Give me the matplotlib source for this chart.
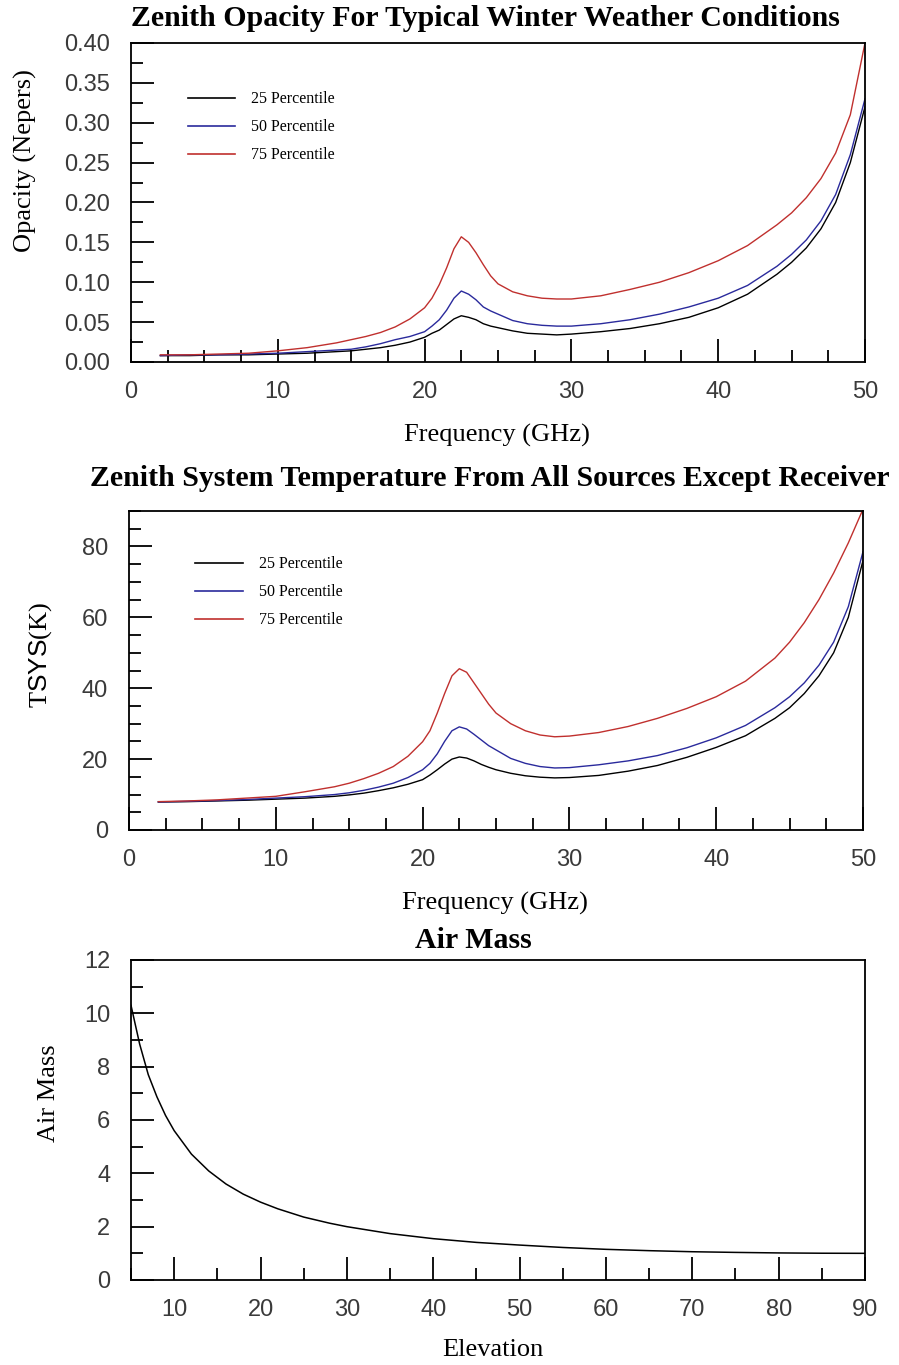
import matplotlib
matplotlib.use("Agg")
import matplotlib.pyplot as plt
from matplotlib.ticker import MultipleLocator, FormatStrFormatter

plt.rcParams["mathtext.fontset"] = "custom"
plt.rcParams["mathtext.sf"] = "Liberation Sans"
plt.rcParams["mathtext.rm"] = "Liberation Serif"

# ---- data -------------------------------------------------------------
freq_ghz = [2, 4, 6, 8, 10, 12, 14, 15, 16, 17, 18, 19, 20, 20.5, 21, 21.5,
            22, 22.5, 23, 23.5, 24, 24.5, 25, 26, 27, 28, 29, 30, 32, 34, 36,
            38, 40, 42, 44, 45, 46, 47, 48, 49, 50]

opacity_p25 = [0.008, 0.008, 0.009, 0.009, 0.010, 0.011, 0.013, 0.014, 0.016,
               0.018, 0.021, 0.025, 0.031, 0.036, 0.040, 0.047, 0.054, 0.058,
               0.056, 0.053, 0.048, 0.045, 0.043, 0.039, 0.036, 0.035, 0.034,
               0.035, 0.038, 0.042, 0.048, 0.056, 0.068, 0.085, 0.110, 0.125,
               0.143, 0.167, 0.200, 0.250, 0.320]
opacity_p50 = [0.008, 0.009, 0.009, 0.010, 0.011, 0.013, 0.015, 0.016, 0.019,
               0.023, 0.028, 0.032, 0.038, 0.045, 0.053, 0.065, 0.080, 0.089,
               0.085, 0.078, 0.069, 0.064, 0.060, 0.052, 0.048, 0.046, 0.045,
               0.045, 0.048, 0.053, 0.060, 0.069, 0.080, 0.096, 0.120, 0.135,
               0.153, 0.177, 0.210, 0.260, 0.330]
opacity_p75 = [0.009, 0.009, 0.010, 0.011, 0.014, 0.018, 0.024, 0.028, 0.032,
               0.037, 0.044, 0.054, 0.068, 0.080, 0.097, 0.118, 0.142, 0.157,
               0.150, 0.137, 0.122, 0.108, 0.098, 0.088, 0.083, 0.080, 0.079,
               0.079, 0.083, 0.091, 0.100, 0.112, 0.127, 0.146, 0.172, 0.187,
               0.206, 0.230, 0.262, 0.310, 0.400]

tsys_p25 = [7.9, 8.0, 8.2, 8.4, 8.7, 9.0, 9.5, 9.9, 10.4, 11.1, 11.9, 12.9,
            14.2, 15.5, 17.0, 18.6, 20.0, 20.6, 20.3, 19.5, 18.5, 17.7, 17.0,
            16.0, 15.3, 14.9, 14.7, 14.8, 15.4, 16.6, 18.2, 20.5, 23.3, 26.6,
            31.5, 34.5, 38.5, 43.5, 50.0, 60.0, 76.0]
tsys_p50 = [7.9, 8.1, 8.3, 8.6, 9.0, 9.4, 10.0, 10.5, 11.2, 12.1, 13.2, 14.8,
            17.0, 18.8, 21.5, 25.0, 28.0, 29.1, 28.5, 27.0, 25.4, 23.8, 22.6,
            20.2, 18.8, 17.9, 17.5, 17.6, 18.4, 19.5, 21.0, 23.2, 26.0, 29.5,
            34.5, 37.6, 41.5, 46.5, 53.0, 63.0, 78.5]
tsys_p75 = [8.0, 8.2, 8.5, 9.0, 9.5, 10.8, 12.2, 13.2, 14.5, 16.0, 17.9, 20.8,
            24.9, 28.0, 33.0, 38.5, 43.5, 45.5, 44.5, 41.5, 38.5, 35.5, 33.0,
            30.0, 28.0, 26.8, 26.3, 26.5, 27.5, 29.2, 31.5, 34.3, 37.6, 42.0,
            48.5, 53.0, 58.5, 65.0, 72.5, 81.0, 90.5]

elevation_deg = [5, 6, 7, 8, 9, 10, 12, 14, 16, 18, 20, 22, 25, 28, 30, 35, 40,
                 45, 50, 55, 60, 65, 70, 75, 80, 85, 90]
air_mass = [10.3, 8.85, 7.7, 6.87, 6.17, 5.6, 4.72, 4.09, 3.6, 3.22, 2.92,
            2.67, 2.36, 2.13, 2.0, 1.74, 1.55, 1.41, 1.31, 1.22, 1.15, 1.10,
            1.06, 1.035, 1.015, 1.004, 1.0]

series_labels = ["25 Percentile", "50 Percentile", "75 Percentile"]
series_colors = ["#000000", "#2a2a9c", "#c0302e"]

# ---- styling ----------------------------------------------------------
SERIF = "Liberation Serif"
TICK_FONT = dict(family="Liberation Sans", weight="normal", size=17)
LABEL_SIZE = 19
TITLE_SIZE = 21.5
W, H = 899, 1365

fig = plt.figure(figsize=(W / 100, H / 100), dpi=100)


def axes_px(left, top, right, bottom):
    return fig.add_axes([left / W, 1 - bottom / H, (right - left) / W,
                         (bottom - top) / H])


def style_axes(ax):
    for sp in ax.spines.values():
        sp.set_linewidth(1.3)
    ax.tick_params(which="both", direction="in", top=False, right=False,
                   width=1.3, color="black")
    ax.tick_params(which="major", length=16.5, pad=14)
    ax.tick_params(which="minor", length=8.3)
    for lab in ax.get_xticklabels() + ax.get_yticklabels():
        lab.set_fontproperties(TICK_FONT)
        lab.set_color("#3a3a3a")
    ax.tick_params(axis="y", pad=15)


def set_labels(ax, xlabel, ylabel, xpos, ypos):
    ax.set_xlabel(xlabel, family=SERIF, size=LABEL_SIZE)
    ax.set_ylabel(ylabel, family=SERIF, size=LABEL_SIZE)
    ax.xaxis.set_label_coords(*xpos)
    ax.yaxis.set_label_coords(*ypos)
    ax.xaxis.label.set_verticalalignment("center")
    ax.yaxis.label.set_verticalalignment("center")


def add_legend(ax, anchor):
    leg = ax.legend(loc="upper left", bbox_to_anchor=anchor, frameon=False,
                    prop=dict(family=SERIF, size=11.5), handlelength=3.0,
                    handletextpad=1.0, labelspacing=0.75, borderpad=0,
                    borderaxespad=0)
    for line in leg.get_lines():
        line.set_linewidth(1.2)


# ---- zenith opacity -----------------------------------------------------
ax1 = axes_px(131, 43, 865, 362)
for vals, lab, col in zip([opacity_p25, opacity_p50, opacity_p75],
                          series_labels, series_colors):
    ax1.plot(freq_ghz, vals, color=col, lw=1.0, label=lab)
ax1.set_xlim(0, 50)
ax1.set_ylim(0, 0.40)
ax1.xaxis.set_major_locator(MultipleLocator(10))
ax1.xaxis.set_minor_locator(MultipleLocator(2.5))
ax1.yaxis.set_major_locator(MultipleLocator(0.05))
ax1.yaxis.set_minor_locator(MultipleLocator(0.025))
ax1.yaxis.set_major_formatter(FormatStrFormatter("%.2f"))
style_axes(ax1)
set_labels(ax1, "Frequency (GHz)", "Opacity (Nepers)",
           (0.499, -0.229), (-0.144, 0.633))
add_legend(ax1, (0.077, 0.848))
fig.text(485 / W, 1 - 19 / H,
         "Zenith Opacity For Typical Winter Weather Conditions",
         family=SERIF, weight="bold", size=TITLE_SIZE,
         ha="center", va="center")

# ---- system temperature -------------------------------------------------
ax2 = axes_px(129, 511, 863, 830)
for vals, lab, col in zip([tsys_p25, tsys_p50, tsys_p75],
                          series_labels, series_colors):
    ax2.plot(freq_ghz, vals, color=col, lw=1.0, label=lab)
ax2.set_xlim(0, 50)
ax2.set_ylim(0, 90)
ax2.xaxis.set_major_locator(MultipleLocator(10))
ax2.xaxis.set_minor_locator(MultipleLocator(2.5))
ax2.yaxis.set_major_locator(MultipleLocator(20))
ax2.yaxis.set_minor_locator(MultipleLocator(5))
style_axes(ax2)
set_labels(ax2, "Frequency (GHz)", r"T$\mathsf{SYS}$(K)",
           (0.499, -0.229), (-0.121, 0.549))
add_legend(ax2, (0.090, 0.858))
fig.text(490 / W, 1 - 479 / H,
         "Zenith System Temperature From All Sources Except Receiver",
         family=SERIF, weight="bold", size=TITLE_SIZE,
         ha="center", va="center")

# ---- air mass -----------------------------------------------------------
ax3 = axes_px(131, 960, 865, 1280)
ax3.plot(elevation_deg, air_mass, color="black", lw=1.1)
ax3.set_xlim(5, 90)
ax3.set_ylim(0, 12)
ax3.xaxis.set_major_locator(MultipleLocator(10))
ax3.xaxis.set_minor_locator(MultipleLocator(5))
ax3.yaxis.set_major_locator(MultipleLocator(2))
ax3.yaxis.set_minor_locator(MultipleLocator(1))
style_axes(ax3)
set_labels(ax3, "Elevation", "Air Mass", (0.493, -0.219), (-0.112, 0.584))
fig.text(473 / W, 1 - 940 / H, "Air Mass", family=SERIF, weight="bold",
         size=TITLE_SIZE, ha="center", va="center")

fig.savefig("out.png", dpi=100)
